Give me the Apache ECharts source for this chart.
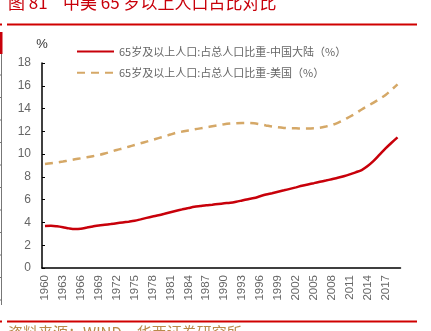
<!DOCTYPE html>
<html><head><meta charset="utf-8">
<script src="https://cdn.jsdelivr.net/npm/echarts@6/dist/echarts.min.js"></script>
<style>html,body{margin:0;padding:0;background:#fff}#c{width:431px;height:331px}</style>
</head><body><div id="c"></div>
<script>
const years = [];
for (let y = 1960; y <= 2019; y++) years.push(String(y));
const chinaName = '65岁及以上人口:占总人口比重-中国大陆（%）';
const usaName = '65岁及以上人口:占总人口比重-美国（%）';
const china = [3.69,3.71,3.66,3.58,3.48,3.42,3.45,3.55,3.65,3.74,
  3.80,3.86,3.93,4.00,4.07,4.15,4.27,4.40,4.52,4.63,
  4.76,4.90,5.03,5.15,5.26,5.37,5.44,5.51,5.56,5.62,
  5.68,5.73,5.82,5.93,6.04,6.14,6.30,6.45,6.57,6.70,
  6.82,6.95,7.08,7.22,7.34,7.45,7.57,7.68,7.80,7.92,
  8.06,8.22,8.40,8.60,8.95,9.40,9.95,10.50,11.00,11.47];
const usa = [9.13,9.20,9.27,9.35,9.44,9.54,9.63,9.72,9.82,9.92,
  10.05,10.20,10.36,10.50,10.65,10.80,10.95,11.10,11.25,11.40,
  11.55,11.72,11.88,11.98,12.08,12.17,12.26,12.35,12.44,12.53,
  12.62,12.68,12.72,12.73,12.73,12.70,12.62,12.52,12.42,12.35,
  12.30,12.27,12.26,12.25,12.25,12.27,12.32,12.42,12.55,12.75,
  12.99,13.28,13.58,13.92,14.22,14.52,14.85,15.20,15.65,16.13];
const titleText = '图 81    中美 65 岁以上人口占比对比';
const sourceText = '资料来源：WIND，华西证券研究所';

const chart = echarts.init(document.getElementById('c'));
const font = '"Noto Sans CJK SC", "Liberation Sans", sans-serif';
const edgeTicks = [];
for (let i = 0; i < 11; i++) {
  edgeTicks.push({type:'line', shape:{x1:0,y1:75+i*22.5,x2:2,y2:75+i*22.5}, style:{stroke:'#777',lineWidth:1}});
}
chart.setOption({
  animation: false,
  textStyle: {fontFamily: font},
  grid: {left: 42, top: 63, right: 30.5, bottom: 63, containLabel: false},
  legend: {
    left: 71, top: 41, orient: 'vertical', itemWidth: 37, itemHeight: 14, itemGap: 10,
    itemStyle: {opacity: 0},
    textStyle: {color: '#666', fontSize: 11, fontFamily: font},
    data: [chinaName, usaName]
  },
  xAxis: {
    type: 'category', data: years, boundaryGap: true,
    axisLine: {lineStyle: {color: '#000', width: 1.5}},
    axisTick: {inside: true, length: 3, interval: 0, lineStyle: {color: '#000'}},
    axisLabel: {rotate: 90, interval: 2, color: '#666', fontSize: 11.5, margin: 7, fontFamily: '"Liberation Sans", sans-serif'}
  },
  yAxis: {
    type: 'value', min: 0, max: 18, interval: 2,
    name: '%', nameLocation: 'end', nameGap: 12,
    nameTextStyle: {color: '#333', fontSize: 13, align: 'center', fontFamily: '"Liberation Sans", sans-serif'},
    axisLine: {show: true, lineStyle: {color: '#000', width: 1.5}},
    axisTick: {show: true, inside: true, length: 3, lineStyle: {color: '#000'}},
    axisLabel: {color: '#666', fontSize: 12, margin: 11, fontFamily: '"Liberation Sans", sans-serif'},
    splitLine: {show: false}
  },
  series: [
    {name: chinaName, type: 'line', data: china, symbol: 'none', smooth: 0.3,
     lineStyle: {color: '#C8000A', width: 2.5}, itemStyle: {color: '#C8000A'}},
    {name: usaName, type: 'line', data: usa, symbol: 'none', smooth: 0.3,
     lineStyle: {color: '#D5A867', width: 2.5, type: [8, 6]}, itemStyle: {color: '#D5A867'}}
  ],
  graphic: [
    {type: 'text', left: 8, top: -6, style: {text: titleText, fill: '#C8000A', fontSize: 17, fontWeight: 'normal', fontFamily: font}},
    {type: 'line', shape: {x1: 7, y1: 24.5, x2: 417, y2: 24.5}, style: {stroke: '#D00000', lineWidth: 2}},
    {type: 'line', shape: {x1: 0, y1: 24.5, x2: 2, y2: 24.5}, style: {stroke: '#D00000', lineWidth: 2}},
    {type: 'line', shape: {x1: 7, y1: 321.5, x2: 417, y2: 321.5}, style: {stroke: '#D00000', lineWidth: 2}},
    {type: 'line', shape: {x1: 0, y1: 321.5, x2: 2, y2: 321.5}, style: {stroke: '#D00000', lineWidth: 2}},
    {type: 'text', left: 8, top: 325, style: {text: sourceText, fill: '#B98A4A', fontSize: 15, fontFamily: font}},
    {type: 'line', shape: {x1: 1.5, y1: 32, x2: 1.5, y2: 305}, style: {stroke: '#777', lineWidth: 1}},
    {type: 'rect', shape: {x: 0, y: 32, width: 2.5, height: 22}, style: {fill: '#C8000A'}}
  ].concat(edgeTicks)
});
</script></body></html>
